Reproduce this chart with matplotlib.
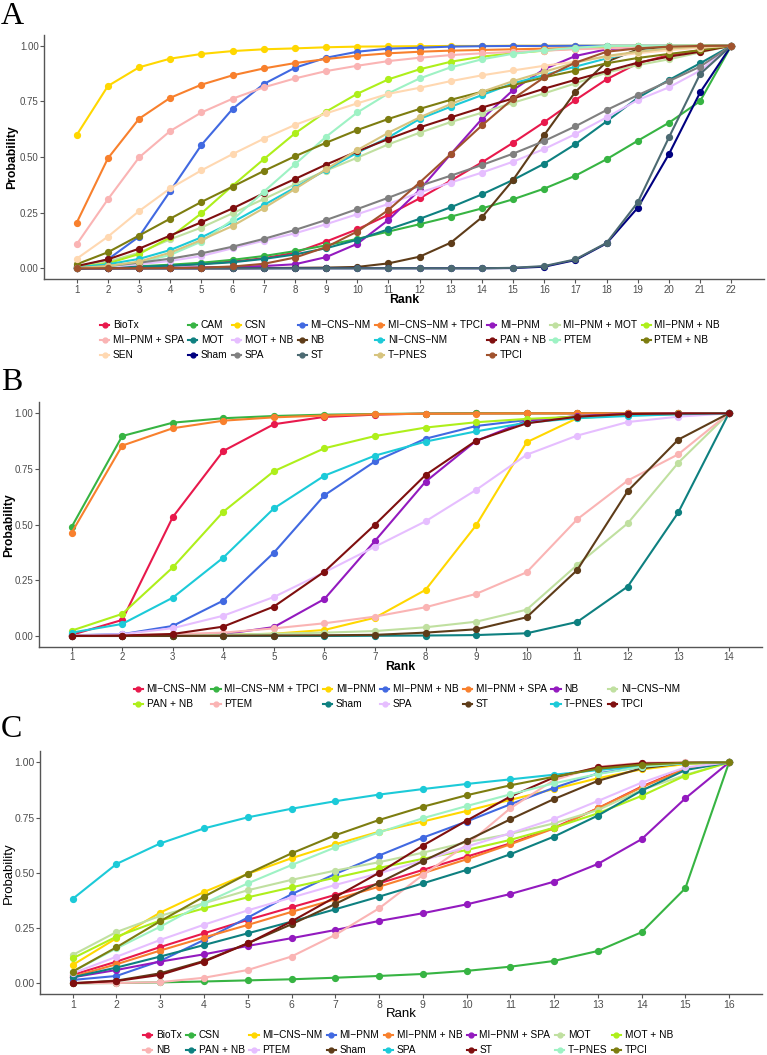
import numpy as np
import matplotlib.pyplot as plt
from matplotlib.lines import Line2D

plt.rcParams['font.family'] = ['Liberation Sans', 'DejaVu Sans']

# shared colour sequence (assigned to treatments in alphabetical order)
palette = ["#E8194C", "#37B443", "#FFD700", "#4169E1", "#F8802D", "#931ABF",
           "#C0E0A0", "#AEEF1B", "#FAB4B4", "#0E8080", "#E6BEFF", "#5E3C19",
           "#1CCAD8", "#7F0F0F", "#9EF2C4", "#7D7D10", "#FFD8B1", "#000080",
           "#808080", "#4C6A72", "#D7C47E", "#A0522D"]

# ---------------- panel A (ranks 1-22) ----------------
a_labels = ["BioTx", "CAM", "CSN", "MI−CNS−NM", "MI−CNS−NM + TPCI", "MI−PNM",
            "MI−PNM + MOT", "MI−PNM + NB", "MI−PNM + SPA", "MOT", "MOT + NB", "NB",
            "NI−CNS−NM", "PAN + NB", "PTEM", "PTEM + NB", "SEN", "Sham", "SPA",
            "ST", "T−PNES", "TPCI"]
a_biotx = [0.000, 0.003, 0.007, 0.012, 0.020, 0.030, 0.045, 0.070, 0.120, 0.175, 0.240,
           0.314, 0.394, 0.476, 0.564, 0.657, 0.756, 0.849, 0.921, 0.958, 0.980, 1.000]
a_cam = [0.000, 0.004, 0.009, 0.016, 0.025, 0.038, 0.055, 0.077, 0.103, 0.132, 0.165,
         0.198, 0.232, 0.269, 0.310, 0.358, 0.416, 0.490, 0.573, 0.654, 0.751, 1.000]
a_csn = [0.599, 0.819, 0.903, 0.942, 0.963, 0.976, 0.984, 0.988, 0.993, 0.996, 0.997,
         0.998, 0.999, 0.999, 1.000, 1.000, 1.000, 1.000, 1.000, 1.000, 1.000, 1.000]
a_micnsnm = [0.005, 0.040, 0.142, 0.347, 0.554, 0.716, 0.828, 0.901, 0.946, 0.973, 0.987,
             0.991, 0.996, 0.998, 0.999, 0.999, 1.000, 1.000, 1.000, 1.000, 1.000, 1.000]
a_micnsnm_tpci = [0.205, 0.494, 0.672, 0.766, 0.825, 0.867, 0.898, 0.922, 0.940, 0.955, 0.966,
                  0.973, 0.978, 0.981, 0.984, 0.987, 0.990, 0.993, 0.996, 0.998, 0.999, 1.000]
a_mipnm = [0.000, 0.000, 0.001, 0.002, 0.004, 0.006, 0.010, 0.018, 0.050, 0.110, 0.217,
           0.352, 0.513, 0.671, 0.801, 0.895, 0.954, 0.984, 0.993, 0.997, 0.999, 1.000]
a_mipnm_mot = [0.004, 0.030, 0.070, 0.130, 0.183, 0.247, 0.311, 0.377, 0.439, 0.497, 0.557,
               0.609, 0.657, 0.699, 0.744, 0.786, 0.831, 0.879, 0.913, 0.939, 0.970, 1.000]
a_mipnm_nb = [0.004, 0.022, 0.064, 0.139, 0.247, 0.371, 0.490, 0.606, 0.704, 0.784, 0.849,
              0.894, 0.928, 0.951, 0.966, 0.978, 0.987, 0.993, 0.997, 0.999, 1.000, 1.000]
a_mipnm_spa = [0.108, 0.310, 0.498, 0.617, 0.700, 0.762, 0.813, 0.853, 0.886, 0.910, 0.931,
               0.946, 0.958, 0.966, 0.972, 0.978, 0.984, 0.988, 0.993, 0.996, 0.998, 1.000]
a_mot = [0.000, 0.003, 0.007, 0.012, 0.018, 0.027, 0.042, 0.062, 0.090, 0.128, 0.175,
         0.222, 0.274, 0.332, 0.397, 0.470, 0.558, 0.660, 0.766, 0.846, 0.921, 1.000]
a_mot_nb = [0.001, 0.006, 0.018, 0.033, 0.055, 0.090, 0.124, 0.157, 0.198, 0.243, 0.289,
            0.340, 0.385, 0.430, 0.479, 0.536, 0.603, 0.678, 0.756, 0.813, 0.888, 1.000]
a_nb = [0.000, 0.000, 0.000, 0.000, 0.000, 0.000, 0.001, 0.002, 0.003, 0.006, 0.022,
        0.052, 0.115, 0.229, 0.397, 0.599, 0.793, 0.928, 0.984, 0.996, 0.999, 1.000]
a_nicnsnm = [0.004, 0.018, 0.042, 0.082, 0.139, 0.207, 0.284, 0.362, 0.442, 0.519, 0.588,
             0.671, 0.726, 0.778, 0.831, 0.868, 0.906, 0.943, 0.973, 0.988, 0.996, 1.000]
a_pan_nb = [0.010, 0.040, 0.088, 0.147, 0.207, 0.269, 0.337, 0.401, 0.466, 0.525, 0.581,
            0.633, 0.678, 0.722, 0.763, 0.807, 0.847, 0.886, 0.924, 0.951, 0.973, 1.000]
a_ptem = [0.001, 0.008, 0.025, 0.060, 0.120, 0.217, 0.344, 0.467, 0.591, 0.700, 0.786,
          0.853, 0.903, 0.939, 0.964, 0.980, 0.991, 0.999, 1.000, 1.000, 1.000, 1.000]
a_ptem_nb = [0.018, 0.072, 0.147, 0.223, 0.298, 0.367, 0.437, 0.503, 0.564, 0.621, 0.671,
             0.716, 0.757, 0.793, 0.823, 0.858, 0.888, 0.921, 0.945, 0.963, 0.980, 1.000]
a_sen = [0.043, 0.142, 0.257, 0.359, 0.440, 0.513, 0.582, 0.644, 0.696, 0.741, 0.784,
         0.811, 0.841, 0.867, 0.889, 0.910, 0.928, 0.950, 0.966, 0.980, 0.991, 1.000]
a_sham = [0.000, 0.000, 0.000, 0.000, 0.000, 0.000, 0.000, 0.000, 0.000, 0.000, 0.000,
          0.000, 0.000, 0.000, 0.001, 0.007, 0.037, 0.112, 0.272, 0.513, 0.790, 1.000]
a_spa = [0.001, 0.010, 0.025, 0.043, 0.067, 0.097, 0.132, 0.172, 0.217, 0.266, 0.317,
         0.370, 0.416, 0.464, 0.515, 0.572, 0.638, 0.711, 0.778, 0.841, 0.906, 1.000]
a_st = [0.000, 0.000, 0.000, 0.000, 0.000, 0.000, 0.000, 0.000, 0.000, 0.000, 0.000,
        0.000, 0.000, 0.000, 0.002, 0.010, 0.040, 0.114, 0.296, 0.588, 0.873, 1.000]
a_tpnes = [0.001, 0.010, 0.030, 0.070, 0.127, 0.190, 0.270, 0.356, 0.445, 0.531, 0.609,
           0.678, 0.738, 0.793, 0.841, 0.883, 0.924, 0.954, 0.973, 0.988, 0.996, 1.000]
a_tpci = [0.000, 0.000, 0.000, 0.001, 0.003, 0.008, 0.020, 0.048, 0.095, 0.165, 0.262,
          0.385, 0.513, 0.642, 0.762, 0.858, 0.924, 0.973, 0.988, 0.996, 0.999, 1.000]
a_series = [a_biotx, a_cam, a_csn, a_micnsnm, a_micnsnm_tpci, a_mipnm, a_mipnm_mot,
            a_mipnm_nb, a_mipnm_spa, a_mot, a_mot_nb, a_nb, a_nicnsnm, a_pan_nb, a_ptem,
            a_ptem_nb, a_sen, a_sham, a_spa, a_st, a_tpnes, a_tpci]

# ---------------- panel B (ranks 1-14) ----------------
b_labels = ["MI−CNS−NM", "MI−CNS−NM + TPCI", "MI−PNM", "MI−PNM + NB", "MI−PNM + SPA",
            "NB", "NI−CNS−NM", "PAN + NB", "PTEM", "Sham", "SPA", "ST", "T−PNES", "TPCI"]
b_micnsnm = [0.005, 0.072, 0.534, 0.831, 0.951, 0.984, 0.994, 0.999, 1.0, 1.0, 1.0, 1.0, 1.0, 1.0]
b_micnsnm_tpci = [0.490, 0.898, 0.958, 0.978, 0.988, 0.994, 0.997, 0.999, 1.0, 1.0, 1.0, 1.0, 1.0, 1.0]
b_mipnm = [0.000, 0.000, 0.002, 0.005, 0.010, 0.027, 0.082, 0.207, 0.497, 0.870, 0.978, 0.993, 0.997, 1.0]
b_mipnm_nb = [0.003, 0.008, 0.045, 0.159, 0.374, 0.632, 0.784, 0.886, 0.943, 0.970, 0.985, 0.993, 0.997, 1.0]
b_mipnm_spa = [0.464, 0.855, 0.933, 0.967, 0.982, 0.990, 0.996, 0.998, 0.999, 1.0, 1.0, 1.0, 1.0, 1.0]
b_nb = [0.000, 0.000, 0.003, 0.008, 0.040, 0.166, 0.427, 0.693, 0.876, 0.966, 0.988, 0.997, 0.999, 1.0]
b_nicnsnm = [0.000, 0.000, 0.003, 0.006, 0.010, 0.015, 0.022, 0.039, 0.064, 0.118, 0.319, 0.506, 0.778, 1.0]
b_pan_nb = [0.024, 0.099, 0.308, 0.558, 0.740, 0.843, 0.898, 0.936, 0.960, 0.975, 0.985, 0.993, 0.997, 1.0]
b_ptem = [0.002, 0.004, 0.008, 0.015, 0.034, 0.057, 0.087, 0.129, 0.189, 0.286, 0.524, 0.698, 0.816, 1.0]
b_sham = [0.000, 0.000, 0.000, 0.000, 0.000, 0.000, 0.001, 0.002, 0.004, 0.012, 0.063, 0.222, 0.555, 1.0]
b_spa = [0.001, 0.008, 0.035, 0.091, 0.175, 0.286, 0.401, 0.515, 0.656, 0.814, 0.900, 0.961, 0.985, 1.0]
b_st = [0.000, 0.000, 0.000, 0.001, 0.002, 0.003, 0.005, 0.015, 0.030, 0.084, 0.296, 0.651, 0.882, 1.0]
b_tpnes = [0.015, 0.054, 0.172, 0.352, 0.573, 0.720, 0.810, 0.873, 0.919, 0.958, 0.978, 0.988, 0.996, 1.0]
b_tpci = [0.000, 0.002, 0.009, 0.042, 0.132, 0.289, 0.500, 0.723, 0.877, 0.955, 0.985, 0.997, 0.999, 1.0]
b_series = [b_micnsnm, b_micnsnm_tpci, b_mipnm, b_mipnm_nb, b_mipnm_spa, b_nb, b_nicnsnm,
            b_pan_nb, b_ptem, b_sham, b_spa, b_st, b_tpnes, b_tpci]

# ---------------- panel C (ranks 1-16) ----------------
c_labels = ["BioTx", "CSN", "MI−CNS−NM", "MI−PNM", "MI−PNM + NB", "MI−PNM + SPA", "MOT",
            "MOT + NB", "NB", "PAN + NB", "PTEM", "Sham", "SPA", "ST", "T−PNES", "TPCI"]
c_biotx = [0.038, 0.098, 0.164, 0.226, 0.287, 0.344, 0.400, 0.452, 0.513, 0.573, 0.633, 0.704, 0.792, 0.890, 0.973, 1.0]
c_csn = [0.000, 0.001, 0.004, 0.008, 0.013, 0.018, 0.025, 0.033, 0.042, 0.056, 0.075, 0.101, 0.146, 0.231, 0.430, 1.0]
c_micnsnm = [0.083, 0.204, 0.320, 0.413, 0.495, 0.566, 0.629, 0.686, 0.732, 0.780, 0.830, 0.879, 0.928, 0.968, 0.992, 1.0]
c_mipnm = [0.015, 0.033, 0.101, 0.196, 0.297, 0.403, 0.495, 0.578, 0.659, 0.732, 0.810, 0.885, 0.950, 0.980, 0.998, 1.0]
c_mipnm_nb = [0.030, 0.086, 0.148, 0.207, 0.264, 0.323, 0.380, 0.437, 0.498, 0.561, 0.629, 0.701, 0.792, 0.887, 0.970, 1.0]
c_mipnm_spa = [0.027, 0.060, 0.098, 0.131, 0.169, 0.204, 0.241, 0.282, 0.317, 0.357, 0.404, 0.460, 0.540, 0.652, 0.837, 1.0]
c_mot = [0.128, 0.232, 0.305, 0.362, 0.421, 0.468, 0.510, 0.548, 0.591, 0.638, 0.676, 0.724, 0.784, 0.875, 0.943, 1.0]
c_mot_nb = [0.113, 0.211, 0.284, 0.339, 0.389, 0.434, 0.478, 0.522, 0.563, 0.603, 0.649, 0.704, 0.769, 0.848, 0.940, 1.0]
c_nb = [0.000, 0.001, 0.005, 0.025, 0.060, 0.121, 0.219, 0.339, 0.490, 0.626, 0.792, 0.920, 0.980, 0.998, 1.000, 1.0]
c_pan_nb = [0.027, 0.071, 0.121, 0.173, 0.226, 0.279, 0.335, 0.392, 0.452, 0.513, 0.584, 0.664, 0.759, 0.872, 0.965, 1.0]
c_ptem = [0.045, 0.120, 0.196, 0.265, 0.330, 0.388, 0.445, 0.498, 0.555, 0.618, 0.679, 0.744, 0.825, 0.908, 0.977, 1.0]
c_sham = [0.000, 0.012, 0.045, 0.101, 0.181, 0.267, 0.359, 0.455, 0.553, 0.645, 0.742, 0.834, 0.916, 0.973, 0.997, 1.0]
c_spa = [0.382, 0.540, 0.633, 0.701, 0.751, 0.790, 0.824, 0.854, 0.879, 0.902, 0.923, 0.944, 0.965, 0.983, 0.995, 1.0]
c_st = [0.000, 0.010, 0.038, 0.098, 0.180, 0.280, 0.390, 0.500, 0.623, 0.736, 0.845, 0.932, 0.977, 0.995, 0.998, 1.0]
c_tpnes = [0.053, 0.158, 0.256, 0.362, 0.452, 0.535, 0.615, 0.683, 0.747, 0.802, 0.855, 0.905, 0.947, 0.980, 0.997, 1.0]
c_tpci = [0.053, 0.163, 0.281, 0.392, 0.496, 0.588, 0.670, 0.739, 0.799, 0.851, 0.896, 0.935, 0.971, 0.989, 0.998, 1.0]
c_series = [c_biotx, c_csn, c_micnsnm, c_mipnm, c_mipnm_nb, c_mipnm_spa, c_mot, c_mot_nb,
            c_nb, c_pan_nb, c_ptem, c_sham, c_spa, c_st, c_tpnes, c_tpci]

y_ticks = [0.0, 0.25, 0.5, 0.75, 1.0]


def draw_panel(ax, series, bold_titles, title_size, tick_size, ylab_x, xlab_y):
    n = len(series[0])
    ranks = np.arange(1, n + 1)
    for i, vals in enumerate(series):
        ax.plot(ranks, vals, color=palette[i], lw=1.5, marker='o', ms=4.2,
                solid_joinstyle='round')
    pad = 0.05 * (n - 1)
    ax.set_xlim(1 - pad, n + pad)
    ax.set_ylim(-0.05, 1.05)
    ax.set_xticks(ranks)
    ax.set_yticks(y_ticks)
    ax.set_yticklabels(["0.00", "0.25", "0.50", "0.75", "1.00"])
    for s in ['top', 'right']:
        ax.spines[s].set_visible(False)
    for s in ['left', 'bottom']:
        ax.spines[s].set_color('#555555')
        ax.spines[s].set_linewidth(1.0)
    ax.tick_params(colors='#555555', labelcolor='#4D4D4D', labelsize=tick_size,
                   length=2.6, width=0.8, pad=1.2)
    w = 'bold' if bold_titles else 'normal'
    ax.set_xlabel("Rank", fontsize=title_size, fontweight=w)
    ax.set_ylabel("Probability", fontsize=title_size, fontweight=w)
    ax.yaxis.set_label_coords(ylab_x, 0.5)
    ax.xaxis.set_label_coords(0.5, xlab_y)


def add_legend(fig, labels, ncol, x, y):
    handles = [Line2D([], [], color=palette[i], lw=1.5, marker='o', ms=3.5)
               for i in range(len(labels))]
    nrow = int(np.ceil(len(labels) / ncol))
    # reorder so that entries run across rows, like the original
    order = []
    for c in range(ncol):
        for r in range(nrow):
            k = r * ncol + c
            if k < len(labels):
                order.append(k)
    fig.legend([handles[k] for k in order], [labels[k] for k in order],
               loc='upper center', bbox_to_anchor=(x, y), ncol=ncol, frameon=False,
               fontsize=7.3, handlelength=0.9, handletextpad=0.35,
               columnspacing=0.45, labelspacing=0.5, borderpad=0.0)


fig = plt.figure(figsize=(7.67, 10.55), dpi=100)
H = 1055.0
W = 767.0

ax_a = fig.add_axes([44 / W, 1 - 279.4 / H, 720 / W, 244.8 / H])
draw_panel(ax_a, a_series, True, 8.8, 7.0, -0.036, -0.058)
add_legend(fig, a_labels, 8, 410 / W, 1 - 315 / H)

ax_b = fig.add_axes([38.8 / W, 1 - 647.1 / H, 722.9 / W, 244.9 / H])
draw_panel(ax_b, b_series, True, 8.8, 7.0, -0.033, -0.056)
add_legend(fig, b_labels, 7, 407 / W, 1 - 679 / H)

ax_c = fig.add_axes([39.9 / W, 1 - 994.3 / H, 722 / W, 243 / H])
draw_panel(ax_c, c_series, False, 9.5, 7.5, -0.0345, -0.055)
add_legend(fig, c_labels, 8, 408 / W, 1 - 1025 / H)

for letter, yy in [("A", 2), ("B", 368), ("C", 715)]:
    fig.text(1 / W, 1 - yy / H, letter, family='Liberation Serif', fontsize=23,
             va='top', ha='left')

fig.savefig("out.png", dpi=100)
